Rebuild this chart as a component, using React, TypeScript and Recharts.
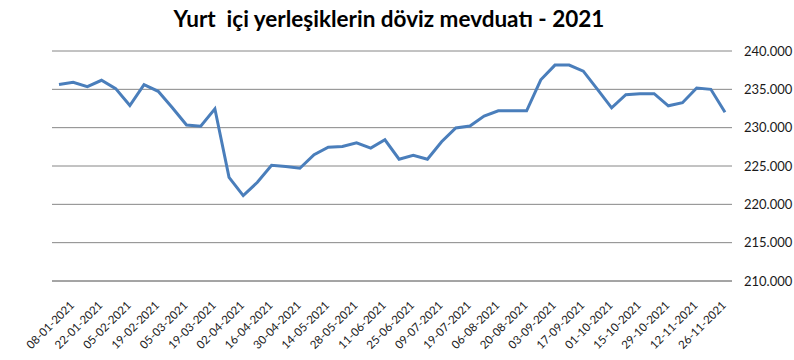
import { LineChart, Line, XAxis, YAxis, CartesianGrid } from "recharts";

// Haftalık tarihler (GG-AA-YYYY)
const dates = [
    "08-01-2021", "15-01-2021", "22-01-2021", "29-01-2021",
    "05-02-2021", "12-02-2021", "19-02-2021", "26-02-2021",
    "05-03-2021", "12-03-2021", "19-03-2021", "26-03-2021",
    "02-04-2021", "09-04-2021", "16-04-2021", "23-04-2021", "30-04-2021",
    "07-05-2021", "14-05-2021", "21-05-2021", "28-05-2021",
    "04-06-2021", "11-06-2021", "18-06-2021", "25-06-2021",
    "02-07-2021", "09-07-2021", "16-07-2021", "19-07-2021", "30-07-2021",
    "06-08-2021", "13-08-2021", "20-08-2021", "27-08-2021",
    "03-09-2021", "10-09-2021", "17-09-2021", "24-09-2021",
    "01-10-2021", "08-10-2021", "15-10-2021", "22-10-2021", "29-10-2021",
    "05-11-2021", "12-11-2021", "19-11-2021", "26-11-2021", "03-12-2021",
];

// Döviz mevduatı (okunan değerler)
const deposits = [
    235620, 235920, 235350, 236180,
    235090, 232890, 235620, 234740,
    232600, 230350, 230200, 232460,
    223510, 221140, 222870, 225100, 224920,
    224700, 226470, 227460, 227540,
    228030, 227330, 228420, 225880,
    226410, 225880, 228160, 229960, 230220,
    231510, 232200, 232200, 232200,
    236240, 238160, 238160, 237370,
    235000, 232590, 234300, 234410, 234430,
    232850, 233250, 235180, 235000, 232020,
];

const yTicks = [210000, 215000, 220000, 225000, 230000, 235000, 240000];

const title = "Yurt  içi yerleşiklerin döviz mevduatı - 2021";

const chartData = dates.map((date, i) => ({ date, value: deposits[i] }));

const formatThousands = (v: number) =>
    `${Math.floor(v / 1000)}.${String(v % 1000).padStart(3, "0")}`;

function DateTick({ x, y, payload }: any) {
    return (
        <g transform={`translate(${x + 16},${y + 17})`}>
            <text
                transform="rotate(-45)"
                textAnchor="end"
                fill="#1a1a1a"
                fontSize={11.5}
                fontFamily="Lato"
            >
                {payload.value}
            </text>
        </g>
    );
}

export default function App() {
    return (
        <div style={{ position: "absolute", left: 0, top: 0, width: 794, height: 360, background: "#fff" }}>
            <div
                style={{
                    position: "absolute",
                    left: 0,
                    top: 5,
                    width: 778,
                    textAlign: "center",
                    whiteSpace: "pre",
                    fontFamily: "Lato",
                    fontWeight: 700,
                    fontSize: 22.5,
                    color: "#000",
                }}
            >
                {title}
            </div>
            <LineChart
                width={794}
                height={360}
                data={chartData}
                margin={{ top: 51, right: 0, left: 52, bottom: 0 }}
            >
                <CartesianGrid vertical={false} stroke="#868686" />
                <XAxis
                    dataKey="date"
                    interval={1}
                    height={79}
                    padding={{ left: 7, right: 7 }}
                    axisLine={{ stroke: "#868686" }}
                    tickLine={false}
                    tick={<DateTick />}
                />
                <YAxis
                    orientation="right"
                    width={62}
                    domain={[210000, 240000]}
                    ticks={yTicks}
                    tickFormatter={formatThousands}
                    axisLine={false}
                    tickLine={false}
                    tickMargin={6}
                    tick={{ fill: "#1a1a1a", fontSize: 13, fontFamily: "Lato", textAnchor: "start" }}
                />
                <Line
                    type="linear"
                    dataKey="value"
                    stroke="#4A7EBB"
                    strokeWidth={3}
                    dot={false}
                    isAnimationActive={false}
                />
            </LineChart>
        </div>
    );
}
